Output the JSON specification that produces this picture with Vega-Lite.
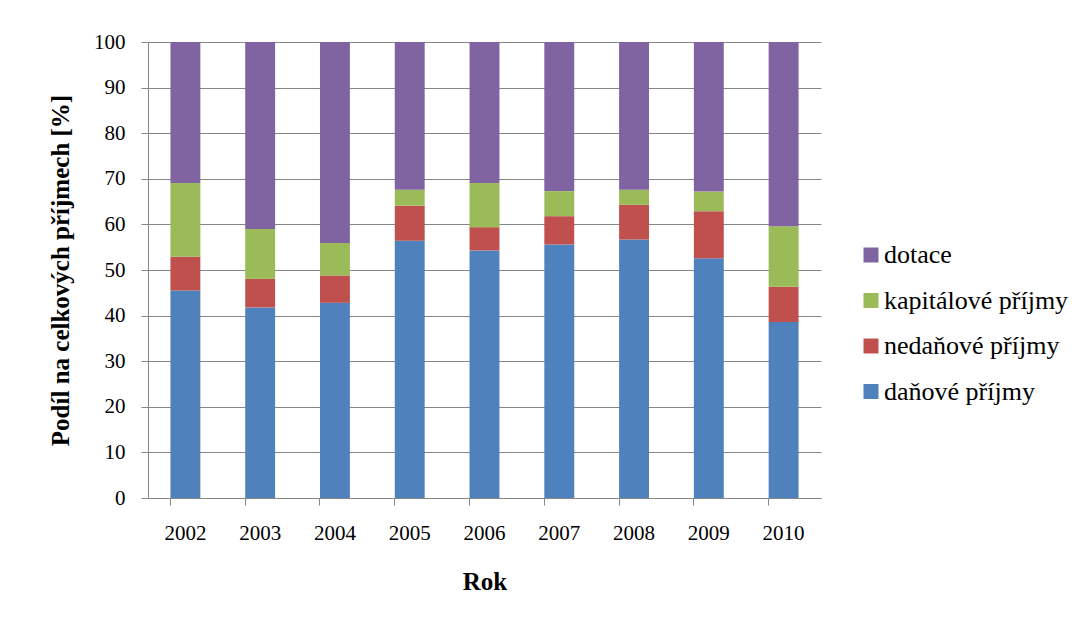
{
  "$schema": "https://vega.github.io/schema/vega-lite/v6.json",
  "autosize": "none",
  "width": 673,
  "height": 456,
  "padding": {"left": 148, "top": 42, "right": 264, "bottom": 123},
  "background": "white",
  "data": {
    "values": [
      {"rok": "2002", "typ": "daňové příjmy", "podil": 45.5},
      {"rok": "2002", "typ": "nedaňové příjmy", "podil": 7.4},
      {"rok": "2002", "typ": "kapitálové příjmy", "podil": 16.2},
      {"rok": "2002", "typ": "dotace", "podil": 30.9},
      {"rok": "2003", "typ": "daňové příjmy", "podil": 41.8},
      {"rok": "2003", "typ": "nedaňové příjmy", "podil": 6.3},
      {"rok": "2003", "typ": "kapitálové příjmy", "podil": 10.9},
      {"rok": "2003", "typ": "dotace", "podil": 41.0},
      {"rok": "2004", "typ": "daňové příjmy", "podil": 42.8},
      {"rok": "2004", "typ": "nedaňové příjmy", "podil": 6.0},
      {"rok": "2004", "typ": "kapitálové příjmy", "podil": 7.1},
      {"rok": "2004", "typ": "dotace", "podil": 44.1},
      {"rok": "2005", "typ": "daňové příjmy", "podil": 56.4},
      {"rok": "2005", "typ": "nedaňové příjmy", "podil": 7.7},
      {"rok": "2005", "typ": "kapitálové příjmy", "podil": 3.5},
      {"rok": "2005", "typ": "dotace", "podil": 32.4},
      {"rok": "2006", "typ": "daňové příjmy", "podil": 54.3},
      {"rok": "2006", "typ": "nedaňové příjmy", "podil": 5.1},
      {"rok": "2006", "typ": "kapitálové příjmy", "podil": 9.7},
      {"rok": "2006", "typ": "dotace", "podil": 30.9},
      {"rok": "2007", "typ": "daňové příjmy", "podil": 55.6},
      {"rok": "2007", "typ": "nedaňové příjmy", "podil": 6.2},
      {"rok": "2007", "typ": "kapitálové příjmy", "podil": 5.5},
      {"rok": "2007", "typ": "dotace", "podil": 32.7},
      {"rok": "2008", "typ": "daňové příjmy", "podil": 56.7},
      {"rok": "2008", "typ": "nedaňové příjmy", "podil": 7.6},
      {"rok": "2008", "typ": "kapitálové příjmy", "podil": 3.3},
      {"rok": "2008", "typ": "dotace", "podil": 32.4},
      {"rok": "2009", "typ": "daňové příjmy", "podil": 52.6},
      {"rok": "2009", "typ": "nedaňové příjmy", "podil": 10.3},
      {"rok": "2009", "typ": "kapitálové příjmy", "podil": 4.3},
      {"rok": "2009", "typ": "dotace", "podil": 32.8},
      {"rok": "2010", "typ": "daňové příjmy", "podil": 38.6},
      {"rok": "2010", "typ": "nedaňové příjmy", "podil": 7.7},
      {"rok": "2010", "typ": "kapitálové příjmy", "podil": 13.3},
      {"rok": "2010", "typ": "dotace", "podil": 40.4}
    ]
  },
  "transform": [
    {"calculate": "indexof(['daňové příjmy','nedaňové příjmy','kapitálové příjmy','dotace'], datum.typ)", "as": "poradi"}
  ],
  "mark": {"type": "bar"},
  "encoding": {
    "x": {
      "field": "rok",
      "type": "ordinal",
      "scale": {"paddingInner": 0.6, "paddingOuter": 0.3},
      "axis": {
        "title": "Rok",
        "titleFont": "Times New Roman",
        "titleFontSize": 25,
        "titleFontWeight": "bold",
        "titleColor": "black",
        "titlePadding": 26,
        "labelAngle": 0,
        "labelFont": "Times New Roman",
        "labelFontSize": 21,
        "labelColor": "black",
        "labelPadding": 17,
        "bandPosition": 0,
        "tickSize": 7,
        "tickColor": "#868686",
        "domainColor": "#868686",
        "grid": false
      }
    },
    "y": {
      "field": "podil",
      "type": "quantitative",
      "stack": "zero",
      "scale": {"domain": [0, 100], "nice": false},
      "axis": {
        "title": "Podíl na celkových příjmech [%]",
        "titleFont": "Times New Roman",
        "titleFontSize": 25,
        "titleFontWeight": "bold",
        "titleColor": "black",
        "titlePadding": 20,
        "values": [0, 10, 20, 30, 40, 50, 60, 70, 80, 90, 100],
        "labelFont": "Times New Roman",
        "labelFontSize": 21,
        "labelColor": "black",
        "labelPadding": 16,
        "tickSize": 7,
        "tickColor": "#868686",
        "domainColor": "#868686",
        "grid": true,
        "gridColor": "#868686",
        "gridWidth": 1
      }
    },
    "color": {
      "field": "typ",
      "type": "nominal",
      "scale": {
        "domain": ["dotace", "kapitálové příjmy", "nedaňové příjmy", "daňové příjmy"],
        "range": ["#8064A2", "#9BBB59", "#C0504D", "#4F81BD"]
      },
      "legend": {
        "title": null,
        "orient": "none",
        "legendX": 710,
        "legendY": 200,
        "symbolType": "square",
        "symbolSize": 225,
        "symbolStrokeWidth": 0,
        "labelFont": "Times New Roman",
        "labelFontSize": 26,
        "labelColor": "black",
        "labelOffset": 0,
        "labelLimit": 400,
        "rowPadding": 19.5
      }
    },
    "order": {"field": "poradi", "type": "quantitative", "sort": "ascending"}
  },
  "config": {
    "font": "Times New Roman",
    "view": {"stroke": null}
  }
}
